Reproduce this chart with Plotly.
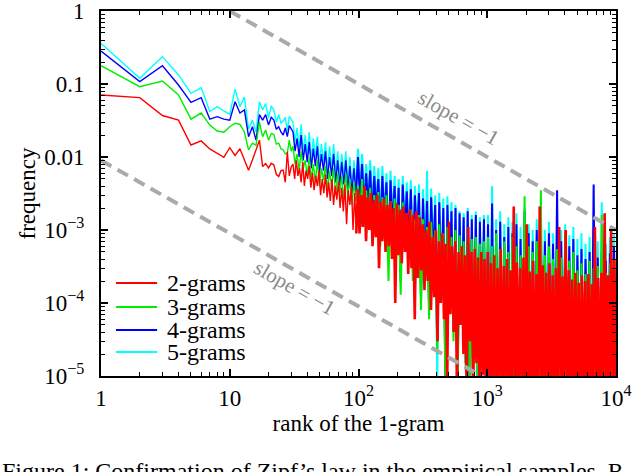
import numpy as np
import plotly.graph_objects as go

# ---------------- data ----------------
head_ranks = list(range(1, 31))

red_head = [0.0707, 0.065, 0.037, 0.032, 0.0146, 0.0166, 0.0129, 0.0112, 0.0099, 0.0134,
            0.0105, 0.013, 0.0091, 0.0066, 0.0091, 0.0125, 0.017, 0.0074, 0.0081, 0.0071,
            0.0082, 0.0078, 0.0058, 0.0054, 0.0065, 0.0066, 0.0045, 0.0118, 0.0055, 0.0073]
green_head = [0.178, 0.092, 0.11, 0.071, 0.033, 0.040, 0.0274, 0.0227, 0.0218, 0.026,
              0.029, 0.028, 0.022, 0.0125, 0.0155, 0.0145, 0.030, 0.019, 0.0234, 0.017,
              0.021, 0.0205, 0.015, 0.0155, 0.013, 0.0125, 0.011, 0.0113, 0.017, 0.012]
blue_head = [0.283, 0.108, 0.178, 0.097, 0.056, 0.065, 0.033, 0.0357, 0.033, 0.032,
             0.057, 0.040, 0.044, 0.019, 0.026, 0.017, 0.038, 0.032, 0.038, 0.0275,
             0.035, 0.032, 0.024, 0.026, 0.022, 0.020, 0.025, 0.019, 0.027, 0.024]
cyan_head = [0.36, 0.12, 0.237, 0.133, 0.0745, 0.089, 0.042, 0.049, 0.0427, 0.0384,
             0.085, 0.049, 0.066, 0.024, 0.032, 0.022, 0.057, 0.044, 0.054, 0.034,
             0.05, 0.044, 0.03, 0.038, 0.029, 0.031, 0.035, 0.023, 0.036, 0.033]

# tails: values at ranks spread evenly (in log) from 31 to 10^4
red_tail = [
    8e-3, 5e-3, 9e-3, 5.5e-3, 7e-3, 4.5e-3, 8.5e-3, 4e-3, 6.5e-3, 5e-3,
    7.5e-3, 3.8e-3, 6e-3, 3.5e-3, 5.5e-3, 4e-3, 6.5e-3, 3e-3, 5e-3, 3.2e-3,
    5.8e-3, 2.8e-3, 4.5e-3, 2.5e-3, 5e-3, 2.2e-3, 4e-3, 2.6e-3, 4.6e-3, 2e-3,
    3.8e-3, 1.8e-3, 4.2e-3, 1.2e-3, 3.5e-3, 2.2e-3, 3.9e-3, 1e-3, 3.2e-3, 9e-4,
    3.6e-3, 9e-4, 3e-3, 1.1e-3, 4e-3, 7e-4, 2.8e-3, 1e-3, 3.2e-3, 6e-4,
    2.6e-3, 8e-4, 3e-3, 3e-4, 2.4e-3, 7e-4, 2.7e-3, 5e-4, 2.2e-3, 6e-4,
    2.5e-3, 4e-4, 2e-3, 1e-4, 2.3e-3, 4.5e-4, 1.9e-3, 3.5e-4, 2.1e-3, 5e-4,
    1.7e-3, 2.5e-4, 1.9e-3, 3e-4, 1.6e-3, 6e-5, 1.8e-3, 2.2e-4, 1.5e-3, 2.8e-4,
    1.2e-3, 1.5e-4, 1e-3, 2e-4, 1.3e-3, 8e-5, 8e-4, 1.2e-4, 1e-3, 3e-5,
    7e-4, 1e-4, 9e-4, 6e-5, 6.5e-4, 8e-6, 1.3e-3, 7e-5, 6e-4, 4e-5,
    7e-4, 6e-6, 5e-4, 5e-5, 6e-4, 2e-5, 4.5e-4, 5e-6, 1.1e-3, 3e-5,
    5e-4, 4e-6, 5.5e-4, 1.5e-5, 4.2e-4, 4e-6, 5e-4, 8e-6, 4e-4, 4e-6,
    5e-4, 4e-6, 3.5e-4, 6e-6, 4.5e-4, 4e-6, 3e-4, 5e-6, 5.5e-4, 4e-6,
    3.2e-4, 6e-6, 4e-4, 4e-6, 2.8e-4, 5e-6, 2.1e-3, 4e-6, 3.6e-4, 6e-6,
    3e-4, 4e-6, 4.2e-4, 5e-6, 1.2e-3, 4e-6, 2.7e-4, 6e-6, 3.8e-4, 4e-6,
    2.5e-4, 5e-6, 2.1e-3, 4e-6, 3.3e-4, 6e-6, 2.6e-4, 4e-6, 3.5e-4, 5e-6,
    2.4e-4, 4e-6, 3e-4, 6e-6, 1.1e-3, 4e-6, 2.3e-4, 5e-6, 1e-3, 4e-6,
    2.8e-4, 6e-6, 2.1e-4, 4e-6, 2.6e-4, 5e-6, 1.9e-4, 4e-6, 2.4e-4, 6e-6,
    2e-4, 4e-6, 2.5e-4, 5e-6, 1.8e-4, 4e-6, 1.1e-3, 6e-6, 2.2e-4, 4e-6,
    2.6e-4, 5e-6, 1.7e-3, 4e-6, 2.4e-4, 6e-6, 1e-3, 4e-6, 4e-4, 5e-6,
]
green_tail = [
    1.4e-2, 8e-3, 1.1e-2, 6.5e-3, 1.2e-2, 7e-3, 9e-3, 5.5e-3, 1e-2, 5e-3,
    8e-3, 4.5e-3, 9e-3, 4e-3, 7e-3, 4.8e-3, 7.5e-3, 3.5e-3, 6.5e-3, 3.8e-3,
    7e-3, 3e-3, 6e-3, 3.2e-3, 5.5e-3, 2.6e-3, 6e-3, 2.8e-3, 5e-3, 2.2e-3,
    4.5e-3, 2.5e-3, 4e-3, 1.5e-3, 5e-3, 1.2e-3, 3.5e-3, 1.4e-3, 3.8e-3, 9e-4,
    3e-3, 1e-3, 3.3e-3, 6e-4, 2.8e-3, 8e-4, 3e-3, 2e-4, 2.5e-3, 7e-4,
    2.7e-3, 5e-4, 2.2e-3, 1.3e-4, 2.4e-3, 6e-4, 1.7e-3, 4e-4, 1.9e-3, 2e-4,
    1.4e-3, 5e-4, 1.6e-3, 8e-5, 1.4e-3, 2e-4, 1.1e-3, 6e-5, 1.3e-3, 3e-4,
    1e-3, 2e-5, 1.2e-3, 1e-4, 9e-4, 8e-6, 1.1e-3, 1.5e-4, 8e-4, 3e-5,
    1e-3, 6e-6, 8.5e-4, 5e-5, 7e-4, 1.2e-5, 9e-4, 6e-6, 7.5e-4, 2e-5,
    8e-4, 5e-6, 6.5e-4, 1.4e-5, 7e-4, 5e-6, 8e-4, 5e-6, 6e-4, 5e-6,
    9e-4, 5e-6, 5.5e-4, 5e-6, 7e-4, 5e-6, 5e-4, 5e-6, 8e-4, 5e-6,
    6e-4, 5e-6, 4.5e-4, 5e-6, 2.9e-3, 5e-6, 6e-4, 5e-6, 5e-4, 5e-6,
    7e-4, 5e-6, 3.5e-3, 5e-6, 4.5e-4, 5e-6, 6e-4, 5e-6, 4e-4, 5e-6,
    5.5e-4, 5e-6, 4.2e-4, 5e-6, 1e-3, 5e-6, 3.8e-4, 5e-6, 5e-4, 5e-6,
    2.8e-4, 5e-6, 3.5e-4, 5e-6, 2.5e-4, 5e-6, 3.8e-4, 5e-6, 3e-4, 5e-6,
    3.2e-4, 5e-6, 1.6e-3, 5e-6, 2.6e-4, 5e-6, 3.5e-4, 5e-6, 3e-4, 5e-6,
]
blue_tail = [
    2.2e-2, 1.2e-2, 1.8e-2, 1e-2, 2e-2, 9e-3, 1.5e-2, 8.5e-3, 1.6e-2, 7e-3,
    1.3e-2, 7.5e-3, 1.4e-2, 6e-3, 1.1e-2, 6.5e-3, 1.2e-2, 5e-3, 1e-2, 5.5e-3,
    1.1e-2, 4.5e-3, 9e-3, 4e-3, 8.5e-3, 4.2e-3, 9e-3, 3.5e-3, 7.5e-3, 3.2e-3,
    7e-3, 3e-3, 1e-2, 2.5e-3, 8e-3, 2e-3, 6e-3, 2.2e-3, 6.5e-3, 1.5e-3,
    5.5e-3, 1.8e-3, 5e-3, 1e-3, 5.5e-3, 1.3e-3, 4.5e-3, 5e-4, 4.8e-3, 1.1e-3,
    4e-3, 8e-4, 3.8e-3, 2e-4, 4.2e-3, 9e-4, 3.4e-3, 6e-4, 3.6e-3, 3e-4,
    3e-3, 7e-4, 3.2e-3, 1.2e-4, 2.7e-3, 3e-4, 2.5e-3, 8e-5, 2.8e-3, 4e-4,
    2.2e-3, 3e-5, 2.4e-3, 1.5e-4, 2e-3, 1e-5, 2.2e-3, 2e-4, 1.8e-3, 4e-5,
    2e-3, 7e-6, 1.7e-3, 6e-5, 1.5e-3, 1.5e-5, 1.8e-3, 6e-6, 1.4e-3, 2.5e-5,
    1.6e-3, 5e-6, 1.3e-3, 1.8e-5, 1.4e-3, 5e-6, 1.2e-3, 5e-6, 2.3e-3, 5e-6,
    1e-3, 5e-6, 1.3e-3, 5e-6, 8e-4, 5e-6, 1.1e-3, 5e-6, 9e-4, 5e-6,
    1.2e-3, 5e-6, 7.5e-4, 5e-6, 1.8e-3, 5e-6, 9e-4, 5e-6, 7e-4, 5e-6,
    1e-3, 5e-6, 8e-4, 5e-6, 7e-4, 5e-6, 9e-4, 5e-6, 6.5e-4, 5e-6,
    3.5e-3, 5e-6, 7e-4, 5e-6, 8e-4, 5e-6, 6e-4, 5e-6, 7.5e-4, 5e-6,
    4.5e-4, 5e-6, 5.5e-4, 5e-6, 4e-4, 5e-6, 5e-4, 5e-6, 4.2e-3, 5e-6,
    4.2e-4, 5e-6, 5e-4, 5e-6, 3.8e-4, 5e-6, 4.8e-4, 5e-6, 6e-4, 5e-6,
]
cyan_tail = [
    3e-2, 1.6e-2, 2.5e-2, 1.3e-2, 2.8e-2, 1.2e-2, 2e-2, 1.1e-2, 2.2e-2, 9e-3,
    1.8e-2, 1e-2, 1.9e-2, 8e-3, 1.5e-2, 8.5e-3, 1.6e-2, 6.5e-3, 1.4e-2, 7e-3,
    1.5e-2, 6e-3, 1.2e-2, 5.5e-3, 1.1e-2, 5.5e-3, 1.2e-2, 4.5e-3, 1e-2, 4.2e-3,
    9e-3, 4e-3, 1.3e-2, 3.2e-3, 1.1e-2, 2.6e-3, 8e-3, 2.8e-3, 9e-3, 2e-3,
    7.5e-3, 2.2e-3, 7e-3, 1.3e-3, 7.5e-3, 1.6e-3, 6e-3, 6e-4, 6.5e-3, 1.4e-3,
    5.5e-3, 1e-3, 5e-3, 2.5e-4, 5.5e-3, 1.1e-3, 4.5e-3, 7e-4, 4.8e-3, 3.5e-4,
    4e-3, 8e-4, 4.2e-3, 1.5e-4, 3.6e-3, 4e-4, 6.5e-3, 1e-4, 3.7e-3, 5e-4,
    3e-3, 8e-6, 3.2e-3, 2e-4, 2.7e-3, 1.3e-5, 2.9e-3, 2.5e-4, 2.4e-3, 5e-5,
    2.2e-3, 8e-6, 1.8e-3, 8e-5, 1.7e-3, 2e-5, 2e-3, 6e-6, 1.6e-3, 3e-5,
    1.8e-3, 5e-6, 1.5e-3, 2.5e-5, 1.6e-3, 5e-6, 1.6e-3, 5e-6, 4e-3, 5e-6,
    1.4e-3, 5e-6, 1.8e-3, 5e-6, 1.2e-3, 5e-6, 1.5e-3, 5e-6, 1.3e-3, 5e-6,
    1.7e-3, 5e-6, 1.1e-3, 5e-6, 2e-3, 5e-6, 1.2e-3, 5e-6, 1e-3, 5e-6,
    1.4e-3, 5e-6, 1.3e-3, 5e-6, 1e-3, 5e-6, 1.3e-3, 5e-6, 9e-4, 5e-6,
    1.2e-3, 5e-6, 1e-3, 5e-6, 1.2e-3, 5e-6, 8.5e-4, 5e-6, 1.1e-3, 5e-6,
    7.5e-4, 5e-6, 9e-4, 5e-6, 6.5e-4, 5e-6, 8e-4, 5e-6, 1e-3, 5e-6,
    7e-4, 5e-6, 2.4e-3, 5e-6, 6.5e-4, 5e-6, 8e-4, 5e-6, 9e-4, 5e-6,
]

series_names = ["2-grams", "3-grams", "4-grams", "5-grams"]
series_colors = ["#ff0000", "#00ee00", "#0000ff", "#00ffff"]

# reference lines of slope -1 (two end points each)
ref_upper_x = [10, 10000]
ref_upper_y = [1, 1e-3]
ref_lower_x = [1, 1000]
ref_lower_y = [9e-3, 9e-6]

x_tickvals = [1, 10, 100, 1000, 10000]
x_ticktext = ["1", "10", "10<sup>2</sup>", "10<sup>3</sup>", "10<sup>4</sup>"]
y_tickvals = [1, 0.1, 0.01, 1e-3, 1e-4, 1e-5]
y_ticktext = ["1", "0.1", "0.01", "10<sup>\u22123</sup>", "10<sup>\u22124</sup>", "10<sup>\u22125</sup>"]

# ---------------- figure ----------------
FONT = "Liberation Serif, Times New Roman, serif"
DENSE_FROM_RANK = 95   # beyond this rank the curves are drawn with a thicker stroke

fig = go.Figure()
# draw 5-grams first so that 2-grams end up on top
order = [3, 2, 1, 0]
heads = [red_head, green_head, blue_head, cyan_head]
tails = [red_tail, green_tail, blue_tail, cyan_tail]
dense_widths = [2.6, 2.0, 2.0, 2.0]
for k in order:
    xs = np.array(head_ranks + list(np.geomspace(31, 10000, len(tails[k]))))
    ys = np.array(heads[k] + tails[k])
    cut = int(np.searchsorted(xs, DENSE_FROM_RANK))
    fig.add_trace(go.Scatter(
        x=xs[:cut + 1], y=ys[:cut + 1], mode="lines", name=series_names[k],
        showlegend=False, hoverinfo="skip",
        line=dict(color=series_colors[k], width=1.4)))
    fig.add_trace(go.Scatter(
        x=xs[cut:], y=ys[cut:], mode="lines", name=series_names[k],
        showlegend=False, hoverinfo="skip",
        line=dict(color=series_colors[k], width=dense_widths[k])))

for xs, ys in [(ref_upper_x, ref_upper_y), (ref_lower_x, ref_lower_y)]:
    fig.add_trace(go.Scatter(
        x=xs, y=ys, mode="lines", showlegend=False, hoverinfo="skip",
        line=dict(color="#aaaaaa", width=4, dash="12px,7px")))

minor_x = [m * 10 ** k for k in range(0, 4) for m in range(2, 10)]
minor_y = [m * 10.0 ** k for k in range(-5, 0) for m in range(2, 10)]

axis_common = dict(
    type="log", showgrid=False, zeroline=False, showline=True, automargin=False,
    linecolor="black", linewidth=2, mirror="allticks",
    ticks="inside", ticklen=7, tickwidth=1.5, tickcolor="black",
    ticklabeloverflow="allow",
    tickfont=dict(family=FONT, size=23, color="black"),
)

fig.update_xaxes(
    **axis_common, range=[0, 4], tickmode="array",
    tickvals=x_tickvals, ticktext=x_ticktext, ticklabelstandoff=0,
    minor=dict(tickmode="array", tickvals=minor_x, ticks="inside",
               ticklen=4, tickwidth=1, tickcolor="black", showgrid=False),
    title=dict(text="rank of the 1-gram", font=dict(family=FONT, size=23, color="black"),
               standoff=4),
)
fig.update_yaxes(
    **axis_common, range=[-5, 0], tickmode="array",
    tickvals=y_tickvals, ticktext=y_ticktext, ticklabelstandoff=10,
    minor=dict(tickmode="array", tickvals=minor_y, ticks="inside",
               ticklen=4, tickwidth=1, tickcolor="black", showgrid=False),
    title=dict(text="frequency", font=dict(family=FONT, size=23, color="black"),
               standoff=2),
)

fig.add_annotation(text="slope = \u22121", xref="x", yref="y",
                   x=np.log10(600), y=np.log10(0.034), showarrow=False,
                   textangle=29.6, font=dict(family=FONT, size=21, color="#8a8a8a"))
fig.add_annotation(text="slope = \u22121", xref="x", yref="y",
                   x=np.log10(32), y=np.log10(1.6e-4), showarrow=False,
                   textangle=29.6, font=dict(family=FONT, size=21, color="#8a8a8a"))

# legend, drawn as a compact key in the lower-left corner
legend_rows_y = [0.2548, 0.189, 0.126, 0.0658]
for k in range(4):
    fig.add_shape(type="line", xref="paper", yref="paper",
                  x0=0.029, x1=0.109, y0=legend_rows_y[k], y1=legend_rows_y[k],
                  line=dict(color=series_colors[k], width=2))
    fig.add_annotation(text=series_names[k], xref="paper", yref="paper",
                       x=0.124, y=legend_rows_y[k], xanchor="left", yanchor="middle",
                       showarrow=False, font=dict(family=FONT, size=24, color="black"))

fig.add_annotation(text="Figure 1: Confirmation of Zipf\u2019s law in the empirical samples. R",
                   xref="paper", yref="paper", x=-0.196, y=-0.218,
                   xanchor="left", yanchor="top", showarrow=False,
                   font=dict(family=FONT, size=24, color="black"))

fig.update_layout(
    width=640, height=472,
    margin=dict(l=101, r=24, t=11, b=96),
    paper_bgcolor="white", plot_bgcolor="white",
    showlegend=False,
    font=dict(family=FONT),
)

fig.write_html("out.html")
